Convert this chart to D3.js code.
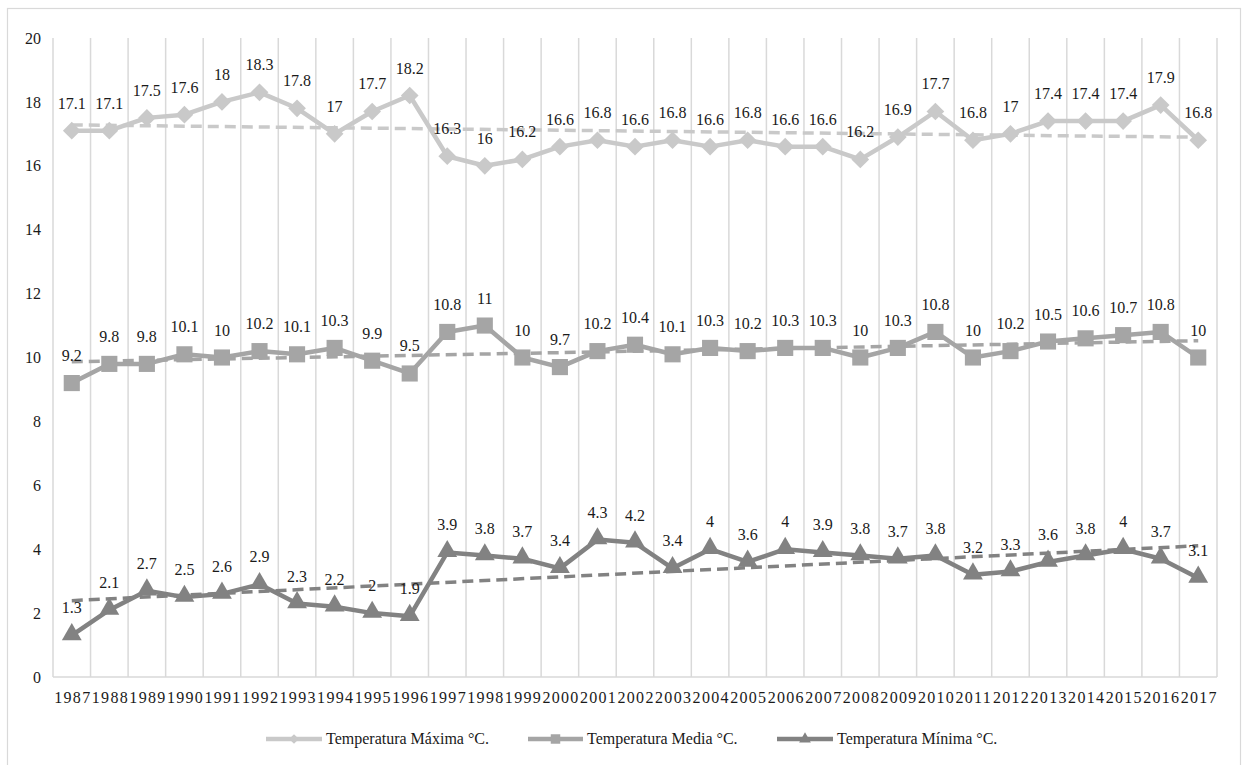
<!DOCTYPE html>
<html>
<head>
<meta charset="utf-8">
<script src="https://cdn.jsdelivr.net/npm/d3@7"></script>
<style>
  html, body { margin: 0; padding: 0; background: #fff; }
  svg { display: block; font-family: "Liberation Serif", "Times New Roman", serif; }
</style>
</head>
<body>
<svg id="chart" width="1248" height="765"></svg>
<script>
const years = ["1987","1988","1989","1990","1991","1992","1993","1994","1995","1996","1997","1998","1999","2000","2001","2002","2003","2004","2005","2006","2007","2008","2009","2010","2011","2012","2013","2014","2015","2016","2017"];
const tempMax = [17.1,17.1,17.5,17.6,18,18.3,17.8,17,17.7,18.2,16.3,16,16.2,16.6,16.8,16.6,16.8,16.6,16.8,16.6,16.6,16.2,16.9,17.7,16.8,17,17.4,17.4,17.4,17.9,16.8];
const tempMedia = [9.2,9.8,9.8,10.1,10,10.2,10.1,10.3,9.9,9.5,10.8,11,10,9.7,10.2,10.4,10.1,10.3,10.2,10.3,10.3,10,10.3,10.8,10,10.2,10.5,10.6,10.7,10.8,10];
const tempMin = [1.3,2.1,2.7,2.5,2.6,2.9,2.3,2.2,2,1.9,3.9,3.8,3.7,3.4,4.3,4.2,3.4,4,3.6,4,3.9,3.8,3.7,3.8,3.2,3.3,3.6,3.8,4,3.7,3.1];
const yTicks = [0,2,4,6,8,10,12,14,16,18,20];
const seriesNames = ["Temperatura Máxima °C.","Temperatura Media °C.","Temperatura Mínima °C."];

const series = [
  {name: seriesNames[0], values: tempMax, color: "#c9c9c9", marker: "diamond"},
  {name: seriesNames[1], values: tempMedia, color: "#a5a5a5", marker: "square"},
  {name: seriesNames[2], values: tempMin, color: "#828282", marker: "triangle"}
];

const FS = 16;
const svg = d3.select("#chart");
svg.append("rect").attr("x",7.5).attr("y",8.5).attr("width",1233).attr("height",800)
  .attr("fill","#fff").attr("stroke","#d9d9d9").attr("stroke-width",1.2);

const x = d3.scaleBand().domain(years).range([53,1217]).padding(0);
const y = d3.scaleLinear().domain([0,20]).range([677,38]);
const cx = d => x(d) + x.bandwidth()/2;

// vertical gridlines at category boundaries
const bounds = years.map(d => x(d)).concat([x(years[years.length-1]) + x.bandwidth()]);
svg.append("g").selectAll("line").data(bounds).join("line")
  .attr("x1", d=>d).attr("x2", d=>d).attr("y1", y(20)).attr("y2", y(0))
  .attr("stroke","#d9d9d9").attr("stroke-width",1.5);
svg.append("line").attr("x1",53).attr("x2",1217).attr("y1",y(0)).attr("y2",y(0))
  .attr("stroke","#d9d9d9").attr("stroke-width",1.5);

// y axis labels
const yAxis = d3.axisLeft(y).tickValues(yTicks).tickSize(0).tickPadding(0).tickFormat(d3.format("d"));
const gy = svg.append("g").attr("transform","translate(41,0)").call(yAxis);
gy.select(".domain").remove();
gy.selectAll("text").attr("font-size",FS).attr("font-family","Liberation Serif").attr("fill","#1a1a1a");

// x axis labels (letter-spaced)
svg.append("g").selectAll("text").data(years).join("text")
  .attr("x", d => cx(d) - 17.5).attr("y", 703)
  .attr("font-size",FS).attr("font-family","Liberation Serif").attr("letter-spacing","1.3px").attr("fill","#1a1a1a")
  .text(d=>d);

// trendlines (least squares)
function trend(vals){
  const n = vals.length; const xs = d3.range(1,n+1);
  const mx = d3.mean(xs), my = d3.mean(vals);
  const b = d3.sum(xs.map((xi,i)=>(xi-mx)*(vals[i]-my))) / d3.sum(xs.map(xi=>(xi-mx)*(xi-mx)));
  const a = my - b*mx;
  return [a + b*1, a + b*n];
}
series.forEach(s => {
  const t = trend(s.values);
  svg.append("line")
    .attr("x1", cx(years[0])).attr("y1", y(t[0]))
    .attr("x2", cx(years[years.length-1])).attr("y2", y(t[1]))
    .attr("stroke", s.color).attr("stroke-width",3.5).attr("stroke-dasharray","11,6");
});

const symbolType = {diamond: d3.symbolDiamond2, square: d3.symbolSquare, triangle: d3.symbolTriangle};
const symbolSize = {diamond: 200, square: 260, triangle: 170};

const line = d3.line().x((v,i)=>cx(years[i])).y(v=>y(v));
series.forEach(s => {
  const g = svg.append("g");
  g.append("path").attr("d", line(s.values)).attr("fill","none")
    .attr("stroke", s.color).attr("stroke-width",4.5).attr("stroke-linejoin","round");
  g.selectAll("path.m").data(s.values).join("path").attr("class","m")
    .attr("transform",(v,i)=>`translate(${cx(years[i])},${y(v) + (s.marker==="triangle"?-1:0)})`)
    .attr("d", d3.symbol().type(symbolType[s.marker]).size(symbolSize[s.marker]))
    .attr("fill", s.color);
  g.selectAll("text").data(s.values).join("text")
    .attr("x",(v,i)=>cx(years[i])).attr("y", v=>y(v) - 22)
    .attr("text-anchor","middle").attr("font-size",FS).attr("font-family","Liberation Serif").attr("fill","#1a1a1a")
    .text(v=>v);
});

// legend
const legendItems = [
  {x0:266, x1:322, tx:326},
  {x0:528, x1:583, tx:587},
  {x0:777, x1:833, tx:837}
];
const ly = 739;
series.forEach((s,i) => {
  const L = legendItems[i];
  const g = svg.append("g");
  g.append("line").attr("x1",L.x0).attr("x2",L.x1).attr("y1",ly).attr("y2",ly)
    .attr("stroke",s.color).attr("stroke-width",4.5);
  g.append("path").attr("transform",`translate(${(L.x0+L.x1)/2},${ly})`)
    .attr("d", d3.symbol().type(symbolType[s.marker]).size(s.marker==="square"?90:60))
    .attr("fill",s.color);
  g.append("text").attr("x",L.tx).attr("y",ly+5).attr("font-size",FS).attr("font-family","Liberation Serif").attr("fill","#1a1a1a").text(s.name);
});
</script>
</body>
</html>
